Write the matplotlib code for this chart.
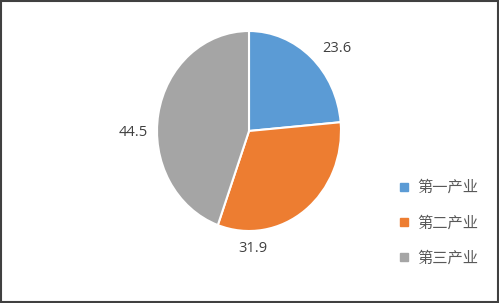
import numpy as np
import matplotlib.pyplot as plt
from matplotlib.patches import Rectangle
from matplotlib.lines import Line2D

# ====== data ======
sectors = ['第一产业', '第二产业', '第三产业']
shares = [23.6, 31.9, 44.5]
colors = ['#5B9BD5', '#ED7D31', '#A5A5A5']
# label positions (pie data coords, radius = 1)
label_pos = [(0.95, 0.83), (0.04, -1.18), (-1.26, -0.02)]

plt.rcParams['font.family'] = ['Noto Sans CJK SC', 'DejaVu Sans']

fig = plt.figure(figsize=(4.99, 3.03), dpi=100)
fig.patch.set_facecolor('white')

# pie axes (the original is slightly stretched vertically)
ax = fig.add_axes([157 / 499, 72 / 303, 184 / 499, 200 / 303])
ax.pie(shares, colors=colors, startangle=90, counterclock=False,
       wedgeprops=dict(edgecolor='white', linewidth=1.5))
ax.set_aspect('auto')
ax.set_xlim(-1, 1)
ax.set_ylim(-1, 1)
ax.axis('off')

for (x, y), v in zip(label_pos, shares):
    ax.text(x, y, f'{v:.1f}', ha='center', va='center', fontsize=10.5,
            color='#404040', family=['Open Sans', 'DejaVu Sans'], clip_on=False)

# legend
handles = [Line2D([0], [0], marker='s', linestyle='none', markersize=6,
                  markerfacecolor=c, markeredgecolor=c) for c in colors]
fig.legend(handles, sectors, loc='upper left', bbox_to_anchor=(392 / 499, 1 - 173 / 303),
           frameon=False, fontsize=11, labelcolor='#595959',
           handlelength=0.8, handletextpad=0.45, labelspacing=1.2, borderaxespad=0)

# outer border
fig.patches.append(Rectangle((0.002, 0.003), 0.995, 0.993, transform=fig.transFigure,
                             fill=False, edgecolor='#404040', linewidth=1.5))

fig.savefig('out.png', dpi=100)
